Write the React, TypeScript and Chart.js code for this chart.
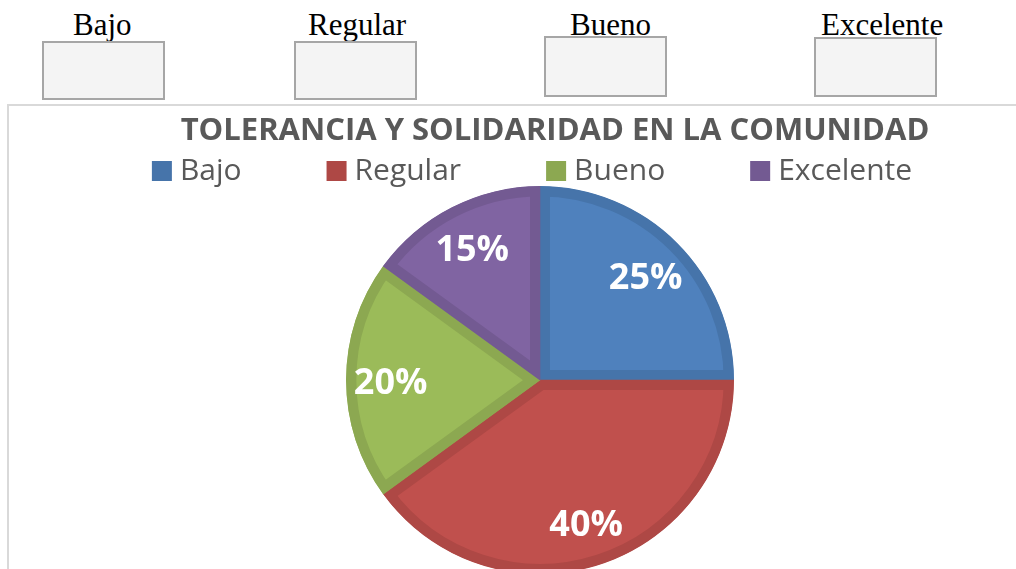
import React, { useEffect, useRef } from "react";
import { Chart, registerables, layouts } from "chart.js";

Chart.register(...registerables);

const categories = ["Bajo", "Regular", "Bueno", "Excelente"];
const values = [25, 40, 20, 15];
const chartTitle = "TOLERANCIA Y SOLIDARIDAD EN LA COMUNIDAD";

const fillColors = ["#4F81BD", "#C0504D", "#9BBB59", "#8064A2"];
const edgeColors = ["#4674AA", "#AE4845", "#8CA851", "#735A92"];

const topBoxes = [
  { textLeft: 73, boxLeft: 42, boxTop: 41, boxH: 59 },
  { textLeft: 308, boxLeft: 294, boxTop: 41, boxH: 59 },
  { textLeft: 570, boxLeft: 544, boxTop: 36, boxH: 61 },
  { textLeft: 821, boxLeft: 814, boxTop: 37, boxH: 60 },
];

const FONT = "'Open Sans', 'DejaVu Sans', sans-serif";

// reserves a strip on the right of the plot so the pie sits left of the title's centre
const rightSpacer = {
  id: "rightSpacer",
  beforeInit(chart: any) {
    const box: any = {
      position: "right",
      weight: 100,
      fullSize: false,
      options: { stackWeight: 1 },
      width: 0,
      height: 0,
      left: 0,
      top: 0,
      right: 0,
      bottom: 0,
      isHorizontal() {
        return false;
      },
      update(_maxW: number, maxH: number) {
        this.width = 30;
        this.height = maxH;
      },
      draw() {},
    };
    layouts.addBox(chart, box);
  },
};

const legendAndLabels = {
  id: "legendAndLabels",
  afterDraw(chart: any) {
    const ctx = chart.ctx;
    const meta = chart.getDatasetMeta(0);
    const data = chart.data.datasets[0].data as number[];
    const total = data.reduce((a, b) => a + b, 0);

    // percentage labels
    ctx.save();
    ctx.fillStyle = "#FFFFFF";
    ctx.font = `bold 36px ${FONT}`;
    ctx.textAlign = "center";
    ctx.textBaseline = "middle";
    meta.data.forEach((arc: any, i: number) => {
      const p = arc.getProps(["x", "y", "startAngle", "endAngle", "outerRadius"], true);
      const mid = (p.startAngle + p.endAngle) / 2;
      const r = p.outerRadius * 0.77;
      const x = p.x + Math.cos(mid) * r;
      const y = p.y + Math.sin(mid) * r + 4;
      ctx.fillText(Math.round((data[i] / total) * 100) + "%", x, y);
    });
    ctx.restore();

    // legend
    ctx.save();
    ctx.font = `30px ${FONT}`;
    ctx.textBaseline = "middle";
    ctx.textAlign = "left";
    const box = 20;
    const gapText = 8;
    const gapItem = 85;
    const labels = chart.data.labels as string[];
    const widths = labels.map((l) => box + gapText + ctx.measureText(l).width);
    const totalW = widths.reduce((a, b) => a + b, 0) + gapItem * (labels.length - 1);
    const ca = chart.chartArea;
    let x = (ca.left + ca.right) / 2 - 8 - totalW / 2;
    const cy = 64;
    labels.forEach((l, i) => {
      ctx.fillStyle = edgeColors[i];
      ctx.fillRect(x, cy - box / 2, box, box);
      ctx.fillStyle = "#595959";
      ctx.fillText(l, x + box + gapText, cy);
      x += widths[i] + gapItem;
    });
    ctx.restore();
  },
};

function PieChart() {
  const ref = useRef<HTMLCanvasElement | null>(null);
  useEffect(() => {
    if (!ref.current) return;
    const chart = new Chart(ref.current, {
      type: "pie",
      data: {
        labels: categories,
        datasets: [
          {
            data: values,
            backgroundColor: fillColors,
            borderColor: edgeColors,
            borderWidth: 10,
            borderAlign: "inner",
            radius: 194,
            hoverOffset: 0,
          } as any,
        ],
      },
      options: {
        animation: false,
        responsive: false,
        events: [],
        layout: { padding: 0 },
        plugins: {
          legend: { display: false },
          tooltip: { enabled: false },
          title: {
            display: true,
            text: chartTitle,
            color: "#595959",
            font: { family: FONT, size: 31, weight: "bold" },
            padding: { top: 6, bottom: 30 },
          },
        },
      },
      plugins: [rightSpacer, legendAndLabels],
    });
    return () => chart.destroy();
  }, []);
  return (
    <canvas
      ref={ref}
      width={1092}
      height={473}
      style={{ position: "absolute", left: 9, top: 107, width: 1092, height: 473 }}
    />
  );
}

export default function App() {
  return (
    <div
      style={{
        position: "absolute",
        left: 0,
        top: 0,
        width: 1016,
        height: 569,
        overflow: "hidden",
        background: "#FFFFFF",
      }}
    >
      {categories.map((c, i) => (
        <React.Fragment key={c}>
          <div
            style={{
              position: "absolute",
              left: topBoxes[i].textLeft,
              top: 9,
              fontFamily: "'Liberation Serif', 'Times New Roman', serif",
              fontSize: 31,
              lineHeight: "31px",
              color: "#000",
              whiteSpace: "nowrap",
            }}
          >
            {c}
          </div>
          <div
            style={{
              position: "absolute",
              left: topBoxes[i].boxLeft,
              top: topBoxes[i].boxTop,
              width: 123,
              height: topBoxes[i].boxH,
              boxSizing: "border-box",
              border: "2px solid #A6A6A6",
              background: "#F4F4F4",
            }}
          />
        </React.Fragment>
      ))}
      <div
        style={{
          position: "absolute",
          left: 7,
          top: 104,
          width: 1120,
          height: 600,
          boxSizing: "border-box",
          borderTop: "2px solid #D9D9D9",
          borderLeft: "2px solid #D9D9D9",
        }}
      />
      <PieChart />
    </div>
  );
}
